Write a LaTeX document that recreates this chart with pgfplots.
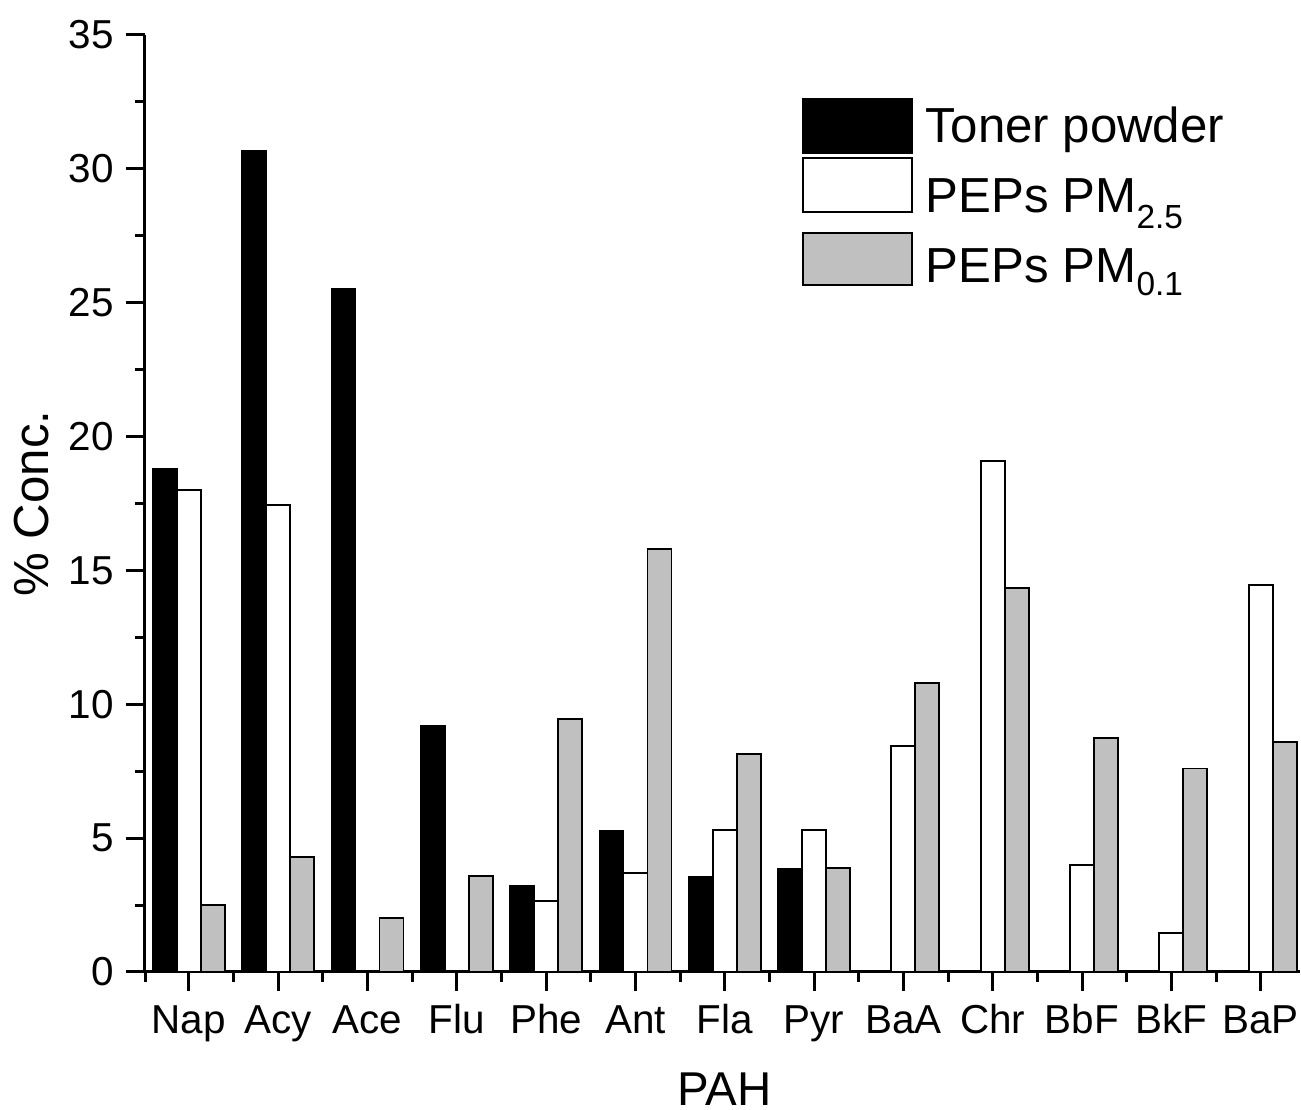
\documentclass[border=0pt]{standalone}
\usepackage{fontspec}
\setmainfont{Liberation Sans}
\usepackage{graphicx}
\usepackage{pgfplots}
\pgfplotsset{compat=1.18}

\definecolor{pmgray}{RGB}{192,192,192}

% legend box with its own vertical offset; the cell keeps a fixed size
\pgfplotsset{legbox/.style 2 args={legend image code/.code={%
    \path[draw=none, fill=none] (0cm,-0.23cm) rectangle (1.09cm,0.31cm);
    \draw[##1, line width=0.55pt, overlay] (0cm,#1) rectangle (1.09cm,#2);}}}

\begin{document}
\begin{tikzpicture}
\begin{axis}[
    scale only axis,
    width=11.55cm, height=9.37cm,
    xmin=-0.4915, xmax=12.44,
    ymin=0, ymax=35,
    axis x line=bottom, axis y line=left,
    axis line style={-, line width=0.85pt},
    tick align=outside,
    tick style={black, line width=0.85pt},
    major tick length=0.19cm, minor tick length=0.1cm,
    xtick={0,...,12},
    xticklabels={Nap,Acy,Ace,Flu,Phe,Ant,Fla,Pyr,BaA,Chr,BbF,BkF,BaP},
    minor xtick={-0.49,0.5,1.5,...,11.5},
    ytick={0,5,...,35},
    minor ytick={2.5,7.5,...,32.5},
    tick label style={font=\fontsize{11.5}{13}\selectfont},
    xticklabel style={text height=0.3cm, text depth=0.1cm},
    /pgf/number format/assume math mode=true,
    xlabel={PAH}, ylabel={\% Conc.},
    xlabel style={font=\fontsize{13.5}{16}\selectfont, at={(axis description cs:0.5017,-0.1249)}, anchor=center},
    ylabel style={font=\fontsize{14}{16}\selectfont, at={(axis description cs:-0.0978,0.5)}, anchor=center, rotate=0},
    legend style={draw=none, fill=none, at={(axis description cs:0.5697,0.9328)}, anchor=north west,
        font=\fontsize{14}{16}\selectfont, row sep=0pt, inner sep=0pt, outer sep=0pt,
        nodes={inner xsep=0.14cm, inner ysep=0pt, text height=0.45cm, text depth=0.25cm}},
    legend cell align=left,
    clip=false,
]
\addplot[ybar, bar width=0.24cm, bar shift=-0.24cm, fill=black, draw=black, line width=0.55pt,
    legbox={-0.205cm}{0.335cm}] coordinates {
    (0,18.8) (1,30.65) (2,25.5) (3,9.2) (4,3.2) (5,5.25) (6,3.55) (7,3.85)
};
\addplot[ybar, bar width=0.24cm, bar shift=0cm, fill=white, draw=black, line width=0.55pt,
    legbox={-0.09cm}{0.45cm}] coordinates {
    (0,18.0) (1,17.45) (4,2.65) (5,3.7) (6,5.3) (7,5.3) (8,8.45) (9,19.1)
    (10,4.0) (11,1.45) (12,14.45)
};
\addplot[ybar, bar width=0.24cm, bar shift=0.24cm, fill=pmgray, draw=black, line width=0.55pt,
    legbox={-0.12cm}{0.40cm}] coordinates {
    (0,2.5) (1,4.3) (2,2.0) (3,3.6) (4,9.45) (5,15.8) (6,8.15) (7,3.9)
    (8,10.8) (9,14.35) (10,8.75) (11,7.6) (12,8.6)
};
\legend{Toner powder,
    PEPs PM\raisebox{-0.16cm}{\fontsize{9.5}{11}\selectfont 2.5},
    PEPs PM\raisebox{-0.13cm}{\fontsize{9.5}{11}\selectfont 0.1}}

\coordinate (bbsw) at (rel axis cs:-0.12554,-0.14728);
\coordinate (bbne) at (rel axis cs:1.00087,1.03735);
\end{axis}
\pgfresetboundingbox
\path (bbsw) rectangle (bbne);
\end{tikzpicture}
\end{document}
